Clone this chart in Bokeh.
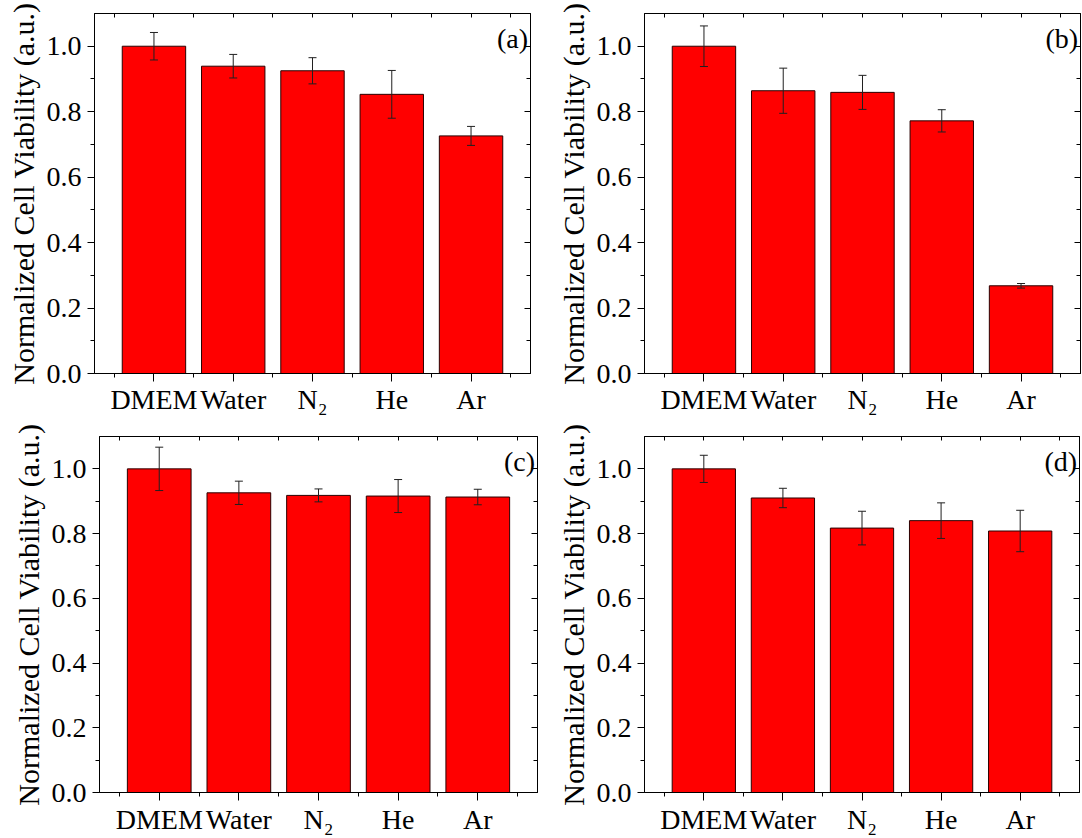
from bokeh.plotting import figure
from bokeh.models import (Range1d, FixedTicker, LinearAxis, Whisker, TeeHead,
                          ColumnDataSource, Label, NumeralTickFormatter)
from bokeh.layouts import column, row
from bokeh.embed import file_html
from bokeh.resources import INLINE

# ---------------- data ----------------
categories = ["DMEM", "Water", "N\u2082", "He", "Ar"]
positions = [1, 2, 3, 4, 5]

a_vals = [1.000, 0.939, 0.925, 0.853, 0.726]
a_err = [0.042, 0.036, 0.040, 0.073, 0.029]

b_vals = [1.000, 0.864, 0.859, 0.772, 0.268]
b_err = [0.062, 0.069, 0.052, 0.034, 0.007]

c_vals = [1.000, 0.926, 0.918, 0.916, 0.913]
c_err = [0.067, 0.036, 0.020, 0.051, 0.024]

d_vals = [1.000, 0.910, 0.817, 0.840, 0.808]
d_err = [0.042, 0.030, 0.052, 0.055, 0.064]

y_ticks = [0.0, 0.2, 0.4, 0.6, 0.8, 1.0]
y_minor = [0.1, 0.3, 0.5, 0.7, 0.9]
x_minor = [0.5, 1.5, 2.5, 3.5, 4.5, 5.5]
panel_tags = ["(a)", "(b)", "(c)", "(d)"]
y_title = "Normalized Cell Viability (a.u.)"

FONT = "Liberation Serif"


def make_panel(vals, errs, tag, width, height, bl, br, bt, bb, xstandoff):
    p = figure(width=width, height=height, output_backend="svg",
               toolbar_location=None, tools="",
               x_range=Range1d(0.25, 5.75), y_range=Range1d(0, 1.1),
               min_border_left=bl, min_border_right=br,
               min_border_top=bt, min_border_bottom=bb,
               x_axis_type=None, y_axis_type=None)
    p.background_fill_color = "white"
    p.border_fill_color = "white"
    p.outline_line_color = "black"
    p.outline_line_width = 1
    p.xgrid.visible = False
    p.ygrid.visible = False

    xt = FixedTicker(ticks=positions, minor_ticks=x_minor)
    yt = FixedTicker(ticks=y_ticks, minor_ticks=y_minor)

    # bottom axis
    xb = LinearAxis(ticker=xt)
    xb.major_label_overrides = {pos: lab for pos, lab in zip(positions, categories)}
    xb.major_label_text_font = FONT
    xb.major_label_text_font_size = "28px"
    xb.major_label_text_color = "black"
    xb.major_label_standoff = xstandoff
    xb.major_tick_out = 8
    xb.major_tick_in = 0
    xb.minor_tick_out = 4
    xb.minor_tick_in = 0
    xb.axis_line_color = "black"
    xb.major_tick_line_color = "black"
    xb.minor_tick_line_color = "black"
    p.add_layout(xb, "below")

    # left axis
    yl = LinearAxis(ticker=yt, formatter=NumeralTickFormatter(format="0.0"))
    yl.axis_label = y_title
    yl.axis_label_text_font = FONT
    yl.axis_label_text_font_size = "30px"
    yl.axis_label_text_font_style = "normal"
    yl.axis_label_text_color = "black"
    yl.axis_label_standoff = 4
    yl.major_label_text_font = FONT
    yl.major_label_text_font_size = "28px"
    yl.major_label_text_color = "black"
    yl.major_label_standoff = 6
    yl.major_tick_out = 7
    yl.major_tick_in = 0
    yl.minor_tick_out = 4
    yl.minor_tick_in = 0
    yl.axis_line_color = "black"
    p.add_layout(yl, "left")

    # mirrored axes (ticks only, inward, empty labels)
    xa = LinearAxis(ticker=FixedTicker(ticks=positions, minor_ticks=x_minor))
    xa.major_label_overrides = {pos: "" for pos in positions}
    xa.major_label_text_font_size = "1px"
    xa.major_label_standoff = 0
    xa.major_tick_out = 0
    xa.major_tick_in = 4
    xa.minor_tick_out = 0
    xa.minor_tick_in = 4
    xa.axis_line_color = "black"
    p.add_layout(xa, "above")

    yr = LinearAxis(ticker=FixedTicker(ticks=y_ticks, minor_ticks=y_minor))
    yr.major_label_overrides = {t: "" for t in y_ticks}
    yr.major_label_text_font_size = "1px"
    yr.major_label_standoff = 0
    yr.major_tick_out = 0
    yr.major_tick_in = 6
    yr.minor_tick_out = 0
    yr.minor_tick_in = 4
    yr.axis_line_color = "black"
    p.add_layout(yr, "right")

    src = ColumnDataSource(dict(
        x=positions, top=vals,
        upper=[v + e for v, e in zip(vals, errs)],
        lower=[v - e for v, e in zip(vals, errs)]))

    p.vbar(x="x", top="top", bottom=0, width=0.8, source=src,
           fill_color="#ff0000", line_color="#2a0000", line_width=1)

    w = Whisker(base="x", upper="upper", lower="lower", source=src,
                line_color="#202020", line_width=1, level="annotation",
                upper_head=TeeHead(size=8, line_color="#202020", line_width=1),
                lower_head=TeeHead(size=8, line_color="#202020", line_width=1))
    p.add_layout(w)

    lab = Label(x=5.72, y=1.07, text=tag, text_align="right", text_baseline="top",
                text_font=FONT, text_font_size="28px", text_color="black")
    p.add_layout(lab)
    return p


pa = make_panel(a_vals, a_err, panel_tags[0], 553, 418, 94, 23, 13, 43, 2)
pb = make_panel(b_vals, b_err, panel_tags[1], 528, 418, 86, 1, 11, 45, 2)
pc = make_panel(c_vals, c_err, panel_tags[2], 553, 419, 99, 16, 18, 42, 3)
pd = make_panel(d_vals, d_err, panel_tags[3], 528, 419, 90, 2, 15, 44, 3)

layout = column(row(pa, pb), row(pc, pd))

open("out.html", "w").write(file_html(layout, INLINE))
